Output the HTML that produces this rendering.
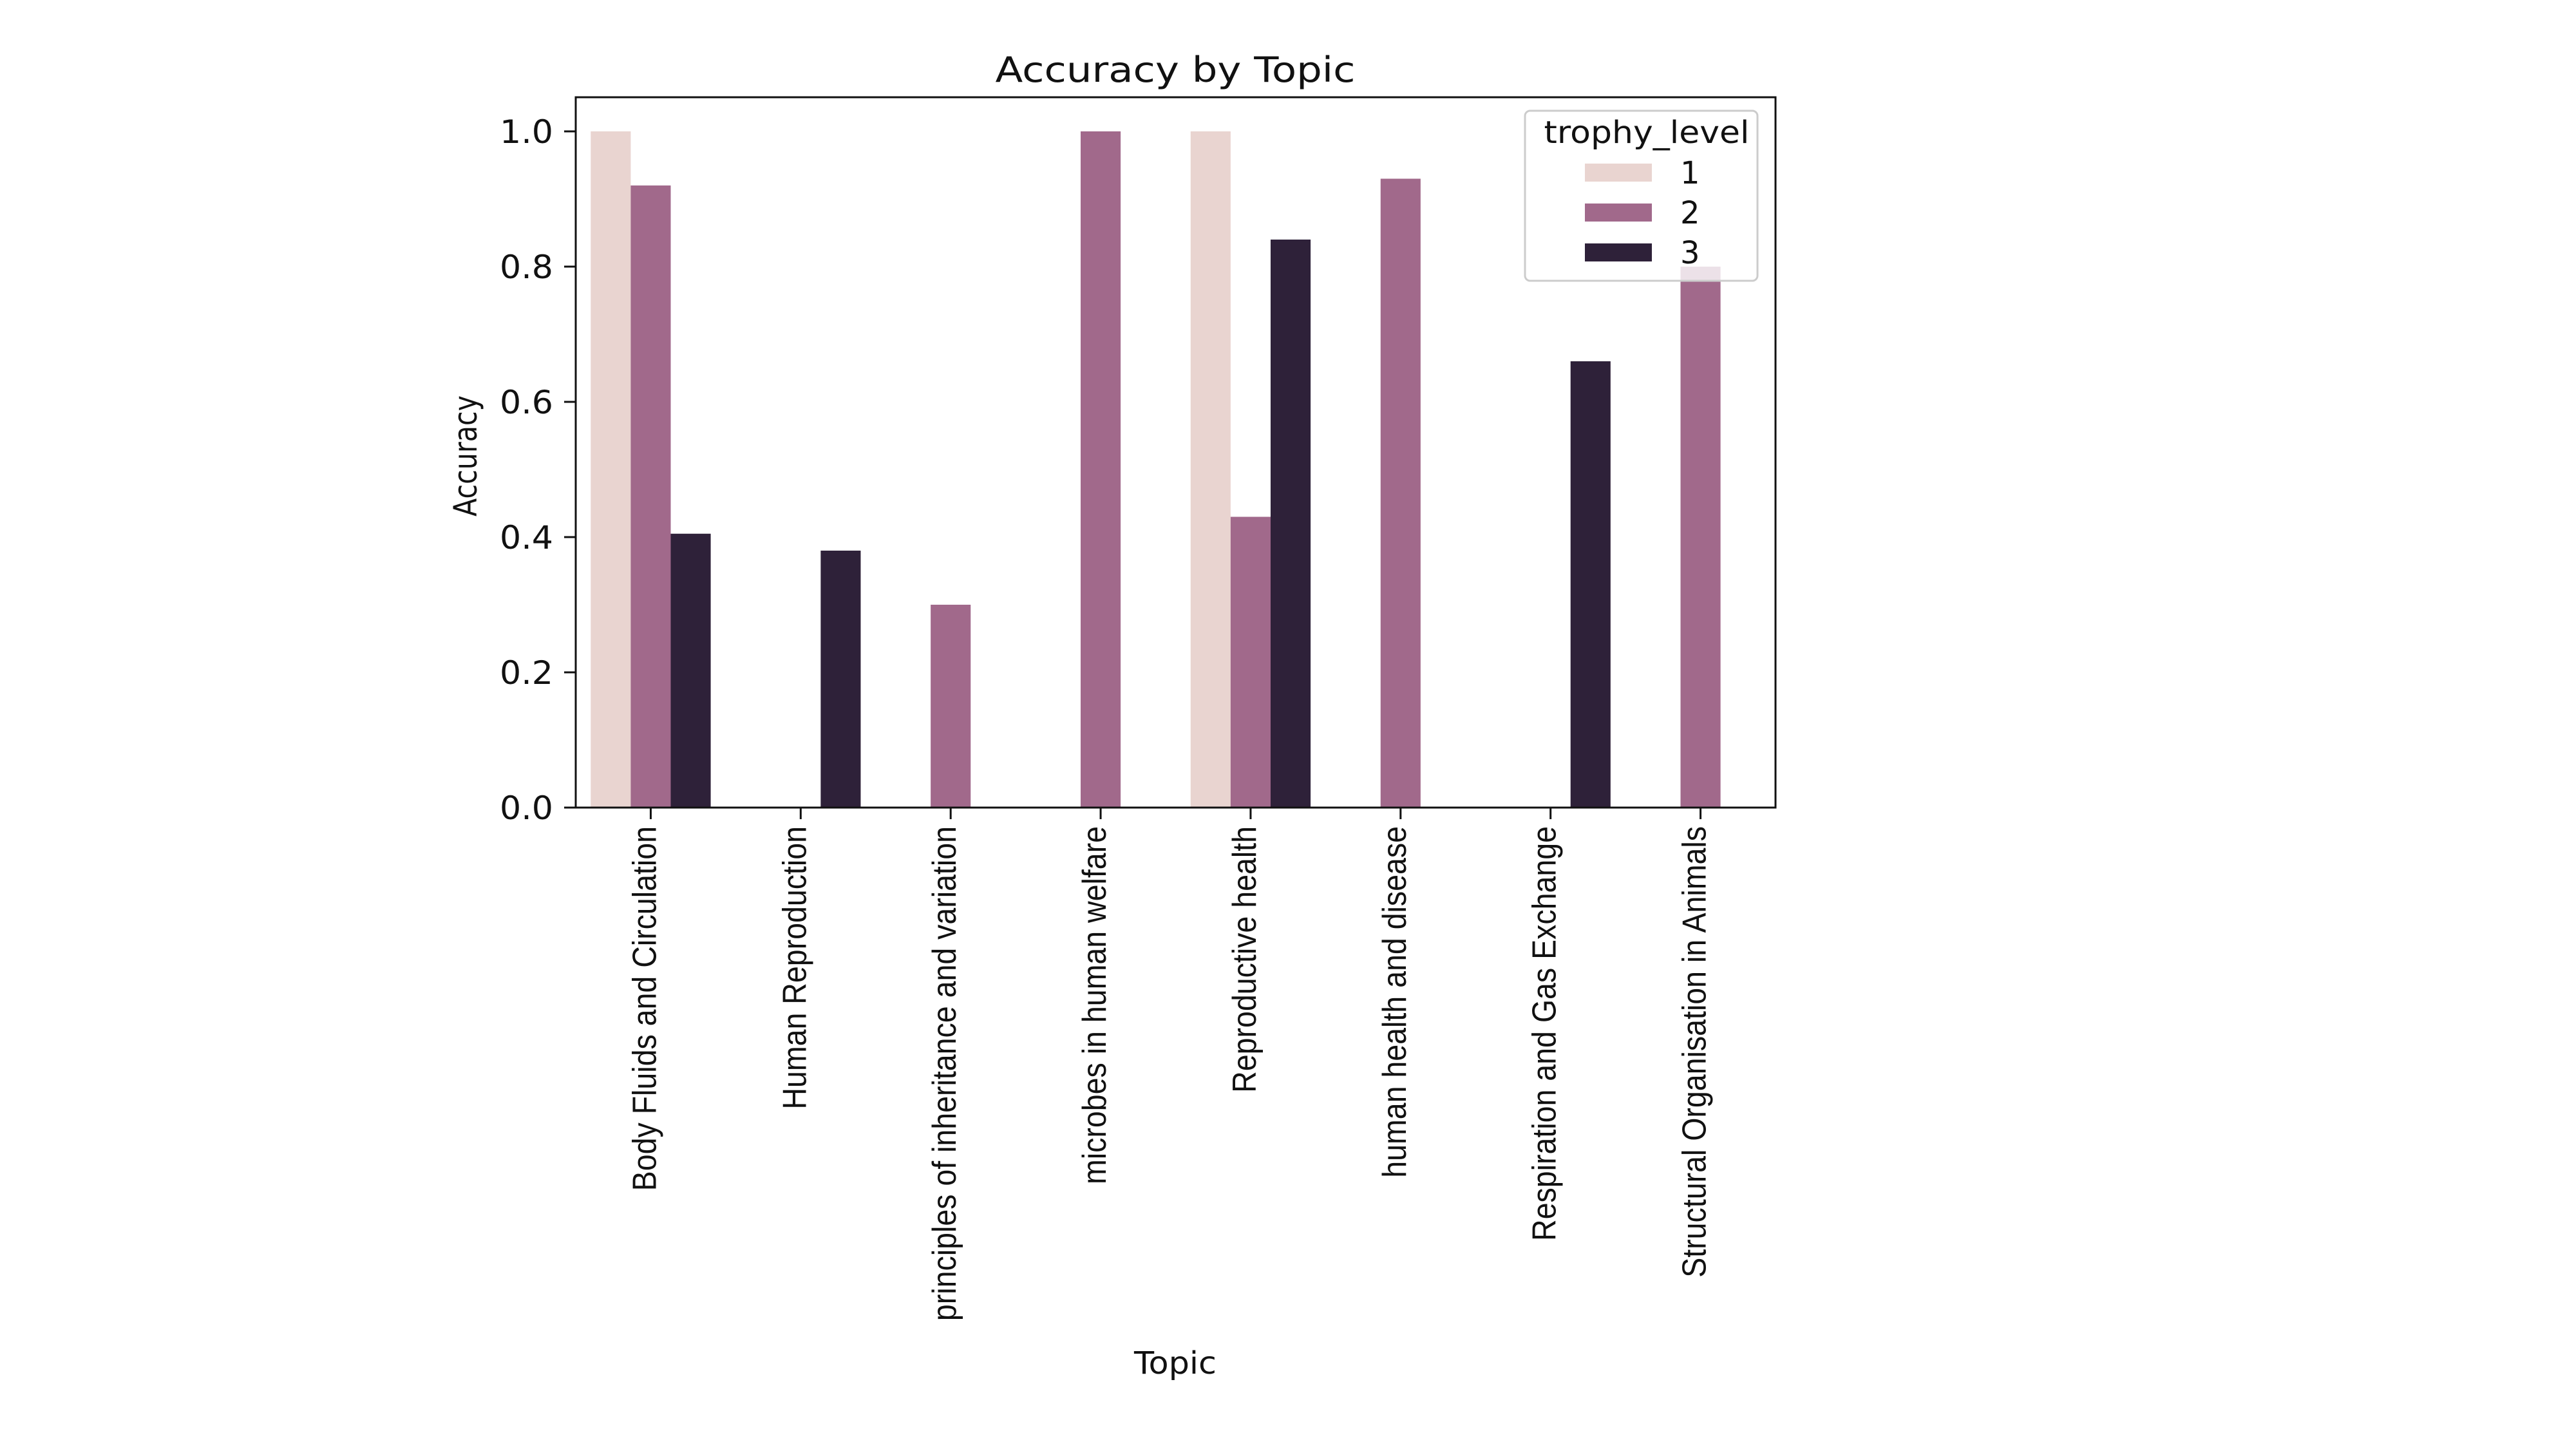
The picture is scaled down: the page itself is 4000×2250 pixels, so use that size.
<!DOCTYPE html>
<html><head><meta charset="utf-8"><style>
html,body{margin:0;padding:0;background:#fff;}
svg{display:block;font-family:"DejaVu Sans","Liberation Sans",sans-serif;}
</style></head><body>
<svg id="chart" width="4000" height="2250" viewBox="0 0 4000 2250" xmlns="http://www.w3.org/2000/svg">
<rect width="4000" height="2250" fill="#fff"/>
<g id="bars"></g>
<g id="axes"></g>
<text x="1825" y="127" text-anchor="middle" font-size="54" textLength="559" lengthAdjust="spacingAndGlyphs" fill="#111">Accuracy by Topic</text>
<text transform="translate(740,708) rotate(-90)" text-anchor="middle" font-size="50" textLength="188" lengthAdjust="spacingAndGlyphs" fill="#111">Accuracy</text>
<text x="1825" y="2133" text-anchor="middle" font-size="48" textLength="128" lengthAdjust="spacingAndGlyphs" fill="#111">Topic</text>
<g id="legend"></g>
</svg>
<script>
const categories = ["Body Fluids and Circulation","Human Reproduction","principles of inheritance and variation","microbes in human welfare","Reproductive health","human health and disease","Respiration and Gas Exchange","Structural Organisation in Animals"];
const hueLevels = ["1","2","3"];
const level1 = [1.0, null, null, null, 1.0, null, null, null];
const level2 = [0.92, null, 0.30, 1.0, 0.43, 0.93, null, 0.80];
const level3 = [0.405, 0.38, null, null, 0.84, null, 0.66, null];
const yTicks = [0.0, 0.2, 0.4, 0.6, 0.8, 1.0];
const yTickLabels = ["0.0","0.2","0.4","0.6","0.8","1.0"];

const NS = "http://www.w3.org/2000/svg";
const L = 894, R = 2757, T = 151, B = 1254;
const colors = ["#e9d4d0","#a1698b","#2e2139"];
const series = [level1, level2, level3];
const band = (R - L) / categories.length;
function xCenter(i){ return L + band * (i + 0.5); }
function y(v){ return B - v * 1050; }
const barW = band * 0.8 / 3;

function mk(tag, attrs, parent){ const e = document.createElementNS(NS, tag); for (const k in attrs) e.setAttribute(k, attrs[k]); parent.appendChild(e); return e; }

const gb = document.getElementById('bars');
series.forEach((s, si) => {
  s.forEach((v, i) => {
    if (v === null) return;
    const x0 = xCenter(i) - band * 0.4 + si * barW;
    const r = mk('rect', {x: x0, y: y(v), width: barW, height: B - y(v), fill: colors[si]}, gb);
    
    
  });
});

const ga = document.getElementById('axes');
const frame = mk('rect', {x: L, y: T, width: R - L, height: B - T, fill: 'none', stroke: '#111', 'stroke-width': 3}, ga);


yTicks.forEach((t, i) => {
  const tk = mk('line', {x1: L - 18, x2: L, y1: y(t), y2: y(t), stroke: '#111', 'stroke-width': 3}, ga);
  
  
  const tx = mk('text', {x: 859, y: y(t) + 18, 'text-anchor': 'end', 'font-size': 50, textLength: 83, lengthAdjust: 'spacingAndGlyphs', fill: '#111'}, ga);
  tx.textContent = yTickLabels[i];
  
  
});
categories.forEach((c, i) => {
  const xc = xCenter(i);
  const tk = mk('line', {x1: xc, x2: xc, y1: B, y2: B + 18, stroke: '#111', 'stroke-width': 3}, ga);
  
  
  const tx = mk('text', {transform: 'translate(' + (xc + 8) + ',1283) rotate(-90) scale(0.895,1)', 'text-anchor': 'end', 'font-size': 52, fill: '#111', 'font-family': '"Liberation Sans",sans-serif'}, ga);
  tx.textContent = c;
  
  
});

const gl = document.getElementById('legend');
const box = mk('rect', {x: 2368, y: 172, width: 361, height: 264, rx: 8, fill: '#fff', 'fill-opacity': 0.8, stroke: '#ccc', 'stroke-width': 3}, gl);


const lt = mk('text', {x: 2557, y: 222, 'text-anchor': 'middle', 'font-size': 48, textLength: 319, lengthAdjust: 'spacingAndGlyphs', fill: '#111'}, gl);
lt.textContent = 'trophy_level';


hueLevels.forEach((h, i) => {
  const cy = 268 + i * 62;
  const p = mk('rect', {x: 2461, y: cy - 14, width: 104, height: 28, fill: colors[i]}, gl);
  
  
  const t = mk('text', {x: 2609, y: cy + 17, 'font-size': 48, fill: '#111'}, gl);
  t.textContent = h;
  
  
});
</script>
</body></html>
